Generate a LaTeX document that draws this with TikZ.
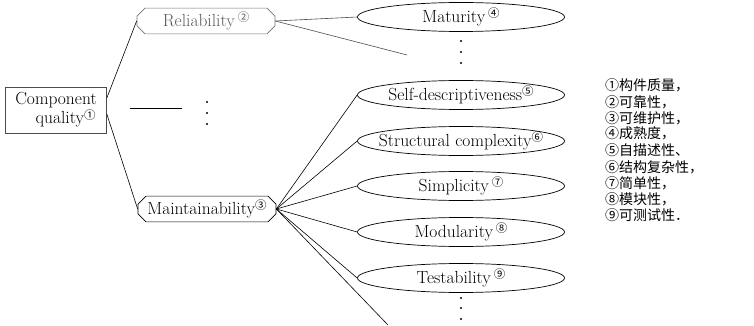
\documentclass[tikz,border=0pt]{standalone}
\usepackage{fontspec}
\newfontfamily\cjk{Noto Sans CJK SC}
\usetikzlibrary{shapes.geometric,shapes.misc}
\newcommand\cnum[1]{\raisebox{4.5pt}{\cjk\fontsize{11.5}{11.5}\selectfont #1}}
\tikzset{
  lbl/.style={font=\fontsize{17.5}{19}\selectfont},
  ell/.style={ellipse, draw, line width=0.7pt, minimum width=207, minimum height=29, inner xsep=-40pt, inner ysep=0pt, lbl},
  chbox/.style={chamfered rectangle, chamfered rectangle xsep=4pt, chamfered rectangle ysep=4pt, draw, line width=0.7pt, minimum width=138, inner sep=0pt, lbl},
  conn/.style={line width=0.6pt},
  dotn/.style={circle, fill, inner sep=0pt, minimum size=2.4pt},
  leg/.style={anchor=base west, inner sep=0pt, font=\cjk\fontsize{14}{15}\selectfont}
}
\begin{document}
\begin{tikzpicture}[x=1pt,y=-1pt]
\useasboundingbox (0,0) rectangle (754,326);
% root
\node[draw=black!70, line width=0.6pt, minimum width=101, minimum height=46, inner sep=0pt, align=center, lbl] (comp) at (56,110) {Component\\\hspace*{1.1em}quality\cnum{①}};
% level 1
\node[chbox, draw=black!55, text=black!65, minimum height=22] (rel) at (206,21) {Reliability\,\cnum{②}};
\node[chbox, minimum height=24] (main) at (207,209) {Maintainability\cnum{③}};
\coordinate (hl1) at (130,108);
\coordinate (hl2) at (182,108);
\draw[conn] (hl1) -- (hl2);
\node[dotn] (d1) at (207,102) {};
\node[dotn] (d2) at (207,113) {};
\node[dotn] (d3) at (207,124) {};
% level 2
\node[ell] (mat) at (461,17) {Maturity\,\cnum{④}};
\node[ell] (self) at (461,95) {Self-descriptiveness\cnum{⑤}};
\node[ell] (str) at (461,141) {Structural complexity\cnum{⑥}};
\node[ell] (simp) at (461,186) {Simplicity\,\cnum{⑦}};
\node[ell] (mod) at (461,232) {Modularity\,\cnum{⑧}};
\node[ell] (test) at (461,278) {Testability\,\cnum{⑨}};
\node[dotn] (e1) at (461,41) {};
\node[dotn] (e2) at (461,52) {};
\node[dotn] (e3) at (461,63) {};
\node[dotn] (f1) at (461,298) {};
\node[dotn] (f2) at (461,308) {};
\node[dotn] (f3) at (461,319) {};
\coordinate (relfree) at (407,55);
\coordinate (mainfree) at (388,325);
% connectors
\draw[conn] (comp.east) ++(0,-12) coordinate (ca) (ca) -- (rel.west);
\draw[conn] (comp.east) ++(0,4) coordinate (cb) (cb) -- (main.west);
\draw[conn, black!70] (rel.east) -- (mat.west);
\draw[conn, black!70] (rel.east) -- (relfree);
\foreach \t in {self,str,simp,mod,test}{\draw[conn] (main.east) -- (\t.west);}
\draw[conn] (main.east) -- (mainfree);
% legend
\node[leg] (l1) at (605,91) {①构件质量，};
\node[leg] (l2) at (605,107) {②可靠性，};
\node[leg] (l3) at (605,123) {③可维护性，};
\node[leg] (l4) at (605,139) {④成熟度，};
\node[leg] (l5) at (605,155) {⑤自描述性、};
\node[leg] (l6) at (605,172) {⑥结构复杂性，};
\node[leg] (l7) at (605,188) {⑦简单性，};
\node[leg] (l8) at (605,204) {⑧模块性，};
\node[leg] (l9) at (605,220) {⑨可测试性．};
\end{tikzpicture}
\end{document}
